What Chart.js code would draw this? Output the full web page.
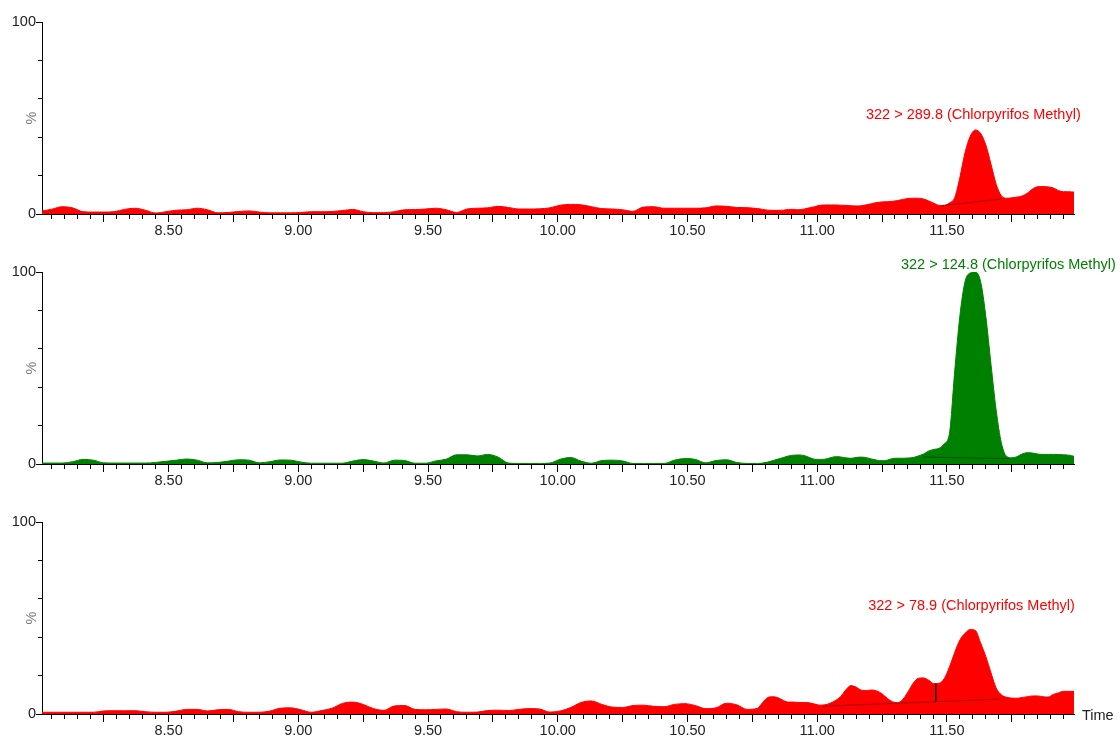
<!DOCTYPE html>
<html>
<head>
<meta charset="utf-8">
<script src="https://cdn.jsdelivr.net/npm/chart.js@4.4.1/dist/chart.umd.min.js"></script>
<style>
  html, body { margin: 0; padding: 0; background: #fff; width: 1120px; height: 738px; overflow: hidden; }
  .panel { position: absolute; left: 0; width: 1120px; height: 250px; }
</style>
</head>
<body>
<div class="panel" style="top:0px"><canvas id="trace289"></canvas></div>
<div class="panel" style="top:250px"><canvas id="trace124"></canvas></div>
<div class="panel" style="top:500px"><canvas id="trace78"></canvas></div>
<script>
// Retention time (min) of each sample point
const times = [
  8.01,8.05,8.09,8.13,8.17,8.21,8.25,8.29,8.33,8.37,8.41,8.45,8.49,8.53,8.57,8.61,8.65,8.69,8.73,8.77,8.81,8.85,8.89,8.93,8.97,9.01,
  9.05,9.09,9.13,9.17,9.21,9.25,9.29,9.33,9.37,9.41,9.45,9.49,9.53,9.57,9.61,9.65,9.69,9.73,9.77,9.81,9.85,9.89,9.93,9.97,
  10.01,10.05,10.09,10.13,10.17,10.21,10.25,10.29,10.33,10.37,10.41,10.45,10.49,10.53,10.57,10.61,10.65,10.69,10.73,10.77,
  10.79,10.81,10.83,10.85,10.87,10.89,10.91,10.93,10.95,10.97,
  10.99,11.01,11.03,11.05,11.07,11.09,11.11,11.13,11.15,11.17,
  11.19,11.21,11.23,11.25,11.27,11.29,11.31,11.33,11.35,11.37,
  11.39,11.41,11.43,11.45,11.47,11.49,11.51,11.53,11.55,11.57,
  11.59,11.61,11.63,11.65,11.67,11.69,11.71,11.73,11.75,11.77,
  11.79,11.81,11.83,11.85,11.87,11.89,11.91,11.93,11.95,11.97,
  11.99
];

// Relative intensity (%) for transition 322 > 289.8
const mrm289 = [
  1.5,2.5,3.8,3.2,1.2,1.0,1.0,1.2,2.4,3.0,2.0,0.5,1.2,2.0,2.2,3.0,2.2,0.6,0.8,1.3,1.6,1.0,0.6,0.6,0.6,0.8,
  1.2,1.2,1.3,1.8,2.4,1.2,0.7,0.7,1.2,2.2,2.3,2.6,3.0,2.2,0.8,2.6,3.0,3.2,4.0,3.4,2.6,2.6,2.7,3.2,
  4.6,5.0,4.8,3.8,2.8,2.6,2.2,1.4,3.6,3.8,3.0,3.0,3.0,3.0,3.2,4.2,4.0,3.4,3.3,2.8,
  2.4,2.0,1.9,1.9,2.0,2.4,2.4,2.2,2.6,3.2,
  3.8,4.5,4.7,4.7,4.7,4.6,4.5,4.3,4.2,4.3,
  4.8,5.4,6.0,6.3,6.4,6.6,7.0,7.6,8.1,8.2,
  8.2,7.8,6.8,5.6,4.5,4.4,5.8,8.5,19,32,
  40.5,43.8,42,36,26,15.5,9.5,8.2,8.4,8.8,
  9.4,10.8,13,14.2,14.3,14.1,13.6,12.2,11.6,11.6,
  11.4
];

// Relative intensity (%) for transition 322 > 124.8
const mrm124 = [
  0.5,0.5,0.5,1.2,2.4,2.0,0.6,0.5,0.5,0.5,0.5,0.8,1.4,2.0,2.6,2.0,0.6,0.8,1.5,2.2,2.0,0.6,1.2,2.1,2.0,1.0,
  0.4,0.4,0.4,0.4,1.5,2.3,1.5,0.5,2.0,1.8,0.4,0.4,1.6,2.5,4.8,4.8,4.2,5.0,3.6,0.5,0.3,0.3,0.3,0.5,
  2.5,3.4,1.5,0.4,1.8,2.0,1.6,0.3,0.3,0.3,0.3,2.0,2.8,2.4,0.6,1.8,2.2,0.8,0.3,0.3,
  0.5,1.0,1.8,2.6,3.4,4.2,4.6,4.7,4.4,3.4,
  2.5,2.4,2.5,3.2,3.8,3.7,3.2,3.0,3.4,3.6,
  3.3,2.6,2.0,1.7,2.0,2.8,3.0,3.0,3.1,3.4,
  4.2,5.2,6.8,7.6,8.2,10.5,16,48,77,95,
  99.5,100,95,77,52,28,11,4,3.2,3.8,
  5.2,5.9,5.7,5.2,5.0,5.0,5.0,4.9,4.8,4.6,
  4.0
];

// Relative intensity (%) for transition 322 > 78.9
const mrm78 = [
  0.9,0.9,0.9,0.9,0.9,0.9,1.6,1.7,1.7,1.7,1.2,0.9,0.9,1.5,2.4,2.4,1.6,2.2,2.4,1.2,0.9,0.9,1.5,3.0,3.2,2.2,
  0.9,1.8,3.0,5.5,6.2,5.0,2.8,1.9,4.2,4.4,2.4,2.2,2.4,2.6,1.2,0.9,1.0,1.8,2.0,1.8,2.4,2.8,2.6,1.0,
  1.6,3.4,6.0,6.8,5.0,3.6,3.4,4.4,4.6,4.0,3.8,5.0,5.4,4.4,2.8,3.2,5.6,4.8,2.4,3.0,
  6.0,8.6,9.0,8.4,7.0,6.2,6.2,6.0,6.0,5.8,
  5.2,4.6,4.8,5.6,7.0,9.0,12.5,14.8,14.0,12.4,
  12.2,12.5,12.0,10.5,8.2,6.4,5.9,7.6,11.5,16,
  18.6,18.8,17.6,15.8,16,18.5,24.5,32,38.5,42,
  44,43.5,37,30,21.5,13.5,10,8.7,8.3,8.2,
  8.6,9.0,9.4,9.4,9.0,8.8,10.2,11.0,11.8,11.8,
  11.8
];

// Integration baselines [time, %] and the drop line between the two last peaks
const base289 = [[11.48, 4.4], [11.71, 7.8]];
const base124 = [[11.41, 3.6], [11.74, 2.8]];
const base78  = [[11.02, 4.0], [11.31, 5.6], [11.71, 7.8]];
const drop78  = [[11.457, 6.2], [11.457, 15.8]];

// Axis labelling
const timeLabels = ['8.50', '9.00', '9.50', '10.00', '10.50', '11.00', '11.50'];
const pctLabels = ['0', '100'];
const timeRange = [8.012, 11.99];

const FONT = "'Liberation Sans', Arial, Helvetica, sans-serif";
Chart.defaults.font.family = FONT;
Chart.defaults.font.size = 14.5;

function alignPx(p) { return Math.round(p - 0.5) + 0.5; }

// Draws the transition caption, the % title, the longer quarter-minute ticks and the Time label
const decorations = {
  id: 'decorations',
  afterDraw(chart, args, opts) {
    const { ctx } = chart;
    const x = chart.scales.x, y = chart.scales.y;
    ctx.save();
    ctx.strokeStyle = '#000';
    ctx.lineWidth = 1;
    for (let q = 8.25; q < timeRange[1]; q += 0.25) {
      const px = alignPx(x.getPixelForValue(q));
      ctx.beginPath();
      ctx.moveTo(px, y.bottom);
      ctx.lineTo(px, y.bottom + 8);
      ctx.stroke();
    }
    [0, 100].forEach(v => {
      const py = alignPx(y.getPixelForValue(v));
      ctx.beginPath();
      ctx.moveTo(x.left - 6, py);
      ctx.lineTo(x.left, py);
      ctx.stroke();
    });

    ctx.font = '14.5px ' + FONT;
    ctx.textAlign = 'center';
    ctx.textBaseline = 'middle';
    ctx.fillStyle = opts.color;
    ctx.fillText(opts.text, x.getPixelForValue(opts.at[0]), y.getPixelForValue(opts.at[1]));

    ctx.save();
    ctx.translate(31.5, y.getPixelForValue(50));
    ctx.rotate(-Math.PI / 2);
    ctx.fillStyle = '#777';
    ctx.fillText('%', 0, 0);
    ctx.restore();

    if (opts.showTime) {
      ctx.textAlign = 'left';
      ctx.fillStyle = '#222';
      ctx.fillText('Time', x.right + 8, y.bottom + 2);
    }
    ctx.restore();
  }
};

function points(list) { return list.map(p => ({ x: p[0], y: p[1] })); }

function makePanel(id, values, color, dark, guides, caption, captionAt, showTime) {
  const datasets = [{
    data: values.map((v, i) => ({ x: times[i], y: v })),
    borderColor: color,
    backgroundColor: color,
    borderWidth: 1,
    fill: 'origin',
    pointRadius: 0,
    cubicInterpolationMode: 'monotone',
    order: 2
  }];
  guides.forEach(g => datasets.push({
    data: points(g.pts),
    borderColor: g.color || dark,
    borderWidth: g.width || 1,
    fill: false,
    pointRadius: 0,
    tension: 0,
    order: 1
  }));

  new Chart(document.getElementById(id), {
    type: 'line',
    data: { datasets },
    options: {
      responsive: true,
      maintainAspectRatio: false,
      animation: false,
      events: [],
      layout: { padding: { top: 22, right: 46, bottom: 0, left: 0 } },
      plugins: {
        legend: { display: false },
        tooltip: { enabled: false },
        decorations: { text: caption, color: color, at: captionAt, showTime: showTime }
      },
      scales: {
        x: {
          type: 'linear',
          min: timeRange[0],
          max: timeRange[1],
          border: { display: true, color: '#000', width: 1 },
          grid: { drawOnChartArea: false, drawTicks: true, tickLength: 5, color: '#000', tickColor: '#000' },
          ticks: {
            autoSkip: false,
            maxRotation: 0,
            padding: 3,
            color: '#222',
            callback: (v) => {
              const hit = timeLabels.find(l => Math.abs(parseFloat(l) - v) < 1e-6);
              return hit || '';
            }
          },
          afterBuildTicks: (s) => {
            const t = [];
            for (let k = 161; k * 0.05 < timeRange[1]; k++) t.push({ value: Math.round(k * 5) / 100 });
            s.ticks = t;
          },
          afterFit: (s) => { s.height = 36; }
        },
        y: {
          min: 0,
          max: 100,
          border: { display: true, color: '#000', width: 1 },
          grid: { drawOnChartArea: false, drawTicks: true, tickLength: 4, color: '#000', tickColor: '#000' },
          ticks: {
            padding: 2,
            color: '#222',
            callback: (v) => pctLabels.includes(String(v)) ? String(v) : ''
          },
          afterBuildTicks: (s) => {
            const t = [];
            for (let k = 0; k <= 10; k++) t.push({ value: k * 10 });
            s.ticks = t;
          },
          afterFit: (s) => { s.width = 42; }
        }
      }
    },
    plugins: [decorations]
  });
}

makePanel('trace289', mrm289, '#ff0000', '#a00000',
  [{ pts: base289 }],
  '322 > 289.8 (Chlorpyrifos Methyl)', [11.602, 51.6], false);

makePanel('trace124', mrm124, '#008000', '#004d00',
  [{ pts: base124 }],
  '322 > 124.8 (Chlorpyrifos Methyl)', [11.737, 103.6], false);

makePanel('trace78', mrm78, '#ff0000', '#a00000',
  [{ pts: base78 }, { pts: drop78, color: '#000', width: 1.5 }],
  '322 > 78.9 (Chlorpyrifos Methyl)', [11.595, 56.2], true);
</script>
</body>
</html>
